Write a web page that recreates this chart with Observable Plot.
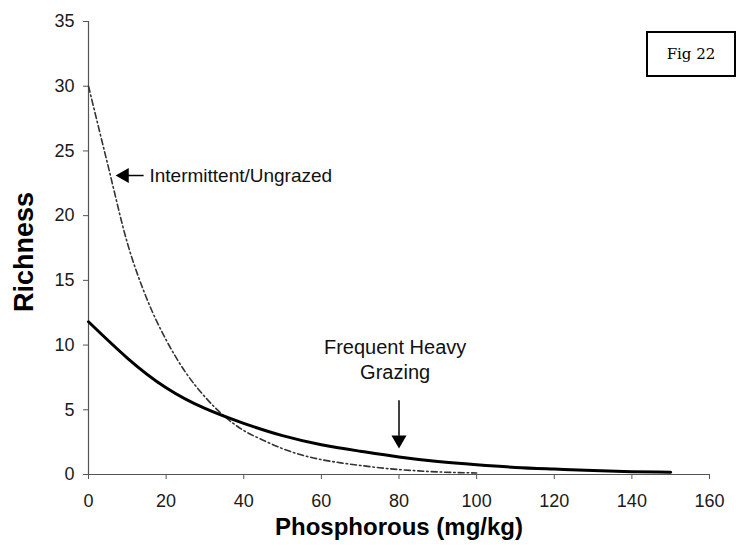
<!DOCTYPE html>
<html>
<head>
<meta charset="utf-8">
<script src="https://cdn.jsdelivr.net/npm/d3@7"></script>
<script src="https://cdn.jsdelivr.net/npm/@observablehq/plot@0.6"></script>
<style>
  body { margin: 0; background: #fff; }
  #wrap { position: relative; width: 736px; height: 551px; }
  #fig { position: absolute; left: 646px; top: 31px; width: 86px; height: 42px;
         border: 2px solid #000; background: #fff; font-family: "DejaVu Serif", serif;
         font-size: 15px; color: #000; display: flex; align-items: center; justify-content: center; }
</style>
</head>
<body>
<div id="wrap"></div>
<script>
// Frequent heavy grazing (solid curve)
const frequentX = [0, 10, 20, 30, 40, 50, 60, 70, 80, 90, 100, 110, 120, 130, 140, 150];
const frequentY = [11.8, 9.0, 6.7, 5.1, 3.95, 3.0, 2.3, 1.8, 1.35, 1.0, 0.75, 0.55, 0.42, 0.3, 0.22, 0.17];
// Intermittent / ungrazed (dash-dot curve)
const intermittentX = [0, 5, 10, 15, 20, 25, 30, 35, 40, 45, 50, 55, 60, 65, 70, 75, 80, 85, 90, 95, 100];
const intermittentY = [30, 23.9, 17.9, 13.6, 10.4, 7.9, 6.0, 4.5, 3.4, 2.65, 2.0, 1.5, 1.15, 0.9, 0.7, 0.52, 0.38, 0.28, 0.2, 0.15, 0.12];
const xTicks = [0, 20, 40, 60, 80, 100, 120, 140, 160];
const yTicks = [0, 5, 10, 15, 20, 25, 30, 35];

const frequent = frequentX.map((x, i) => ({x, y: frequentY[i]}));
const intermittent = intermittentX.map((x, i) => ({x, y: intermittentY[i]}));

const font = "'Liberation Sans', Arial, sans-serif";

const chart = Plot.plot({
  width: 736,
  height: 551,
  marginLeft: 88,
  marginRight: 27,
  marginTop: 21,
  marginBottom: 77,
  style: {fontFamily: font, background: "#fff", color: "#1a1a1a"},
  x: {domain: [0, 160]},
  y: {domain: [0, 35]},
  marks: [
    Plot.axisY({ticks: yTicks, tickSize: 5, tickPadding: 9, fontSize: 18, label: null, stroke: "#555"}),
    Plot.axisX({ticks: xTicks, tickSize: 5, tickPadding: 15, fontSize: 18, label: null, stroke: "#555"}),
    Plot.ruleX([0], {y1: 0, y2: 35, stroke: "#555", strokeWidth: 1.2}),
    Plot.ruleY([0], {x1: 0, x2: 160, stroke: "#555", strokeWidth: 1.2}),
    Plot.line(intermittent, {x: "x", y: "y", curve: "monotone-x", stroke: "#333", strokeWidth: 1.6, strokeDasharray: "6,3,1.5,3"}),
    Plot.line(frequent, {x: "x", y: "y", curve: "natural", stroke: "#000", strokeWidth: 3}),
    // arrows
    Plot.link([{x1: 14.2, y1: 23.1, x2: 9.5, y2: 23.1}], {x1: "x1", y1: "y1", x2: "x2", y2: "y2", stroke: "#000", strokeWidth: 1.5}),
    Plot.dot([{x: 7, y: 23.1}], {x: "x", y: "y", symbol: "triangle", r: 5.6, rotate: -90, dx: 8.7, fill: "#000", stroke: "none"}),
    Plot.link([{x1: 80, y1: 5.74, x2: 80, y2: 3.0}], {x1: "x1", y1: "y1", x2: "x2", y2: "y2", stroke: "#000", strokeWidth: 1.5}),
    Plot.dot([{x: 80, y: 2.0}], {x: "x", y: "y", symbol: "triangle", r: 5.6, rotate: 180, dy: -8.7, fill: "#000", stroke: "none"}),
    // annotations
    Plot.text(["Intermittent/Ungrazed"], {x: 15.7, y: 23.1, textAnchor: "start", fontSize: 19, fill: "#111"}),
    Plot.text(["Frequent Heavy\nGrazing"], {x: 79, y: 8.97, textAnchor: "middle", fontSize: 20, lineHeight: 1.25, fill: "#111"}),
    // axis titles
    Plot.text(["Richness"], {frameAnchor: "left", dx: -64, dy: 4, rotate: -90, textAnchor: "middle", fontSize: 27, fontWeight: "bold", fill: "#000"}),
    Plot.text(["Phosphorous (mg/kg)"], {frameAnchor: "bottom", dy: 60, textAnchor: "middle", fontSize: 24, fontWeight: "bold", fill: "#000"})
  ]
});

const wrap = document.getElementById("wrap");
wrap.appendChild(chart);
const fig = document.createElement("div");
fig.id = "fig";
fig.textContent = "Fig 22";
wrap.appendChild(fig);
</script>
</body>
</html>
